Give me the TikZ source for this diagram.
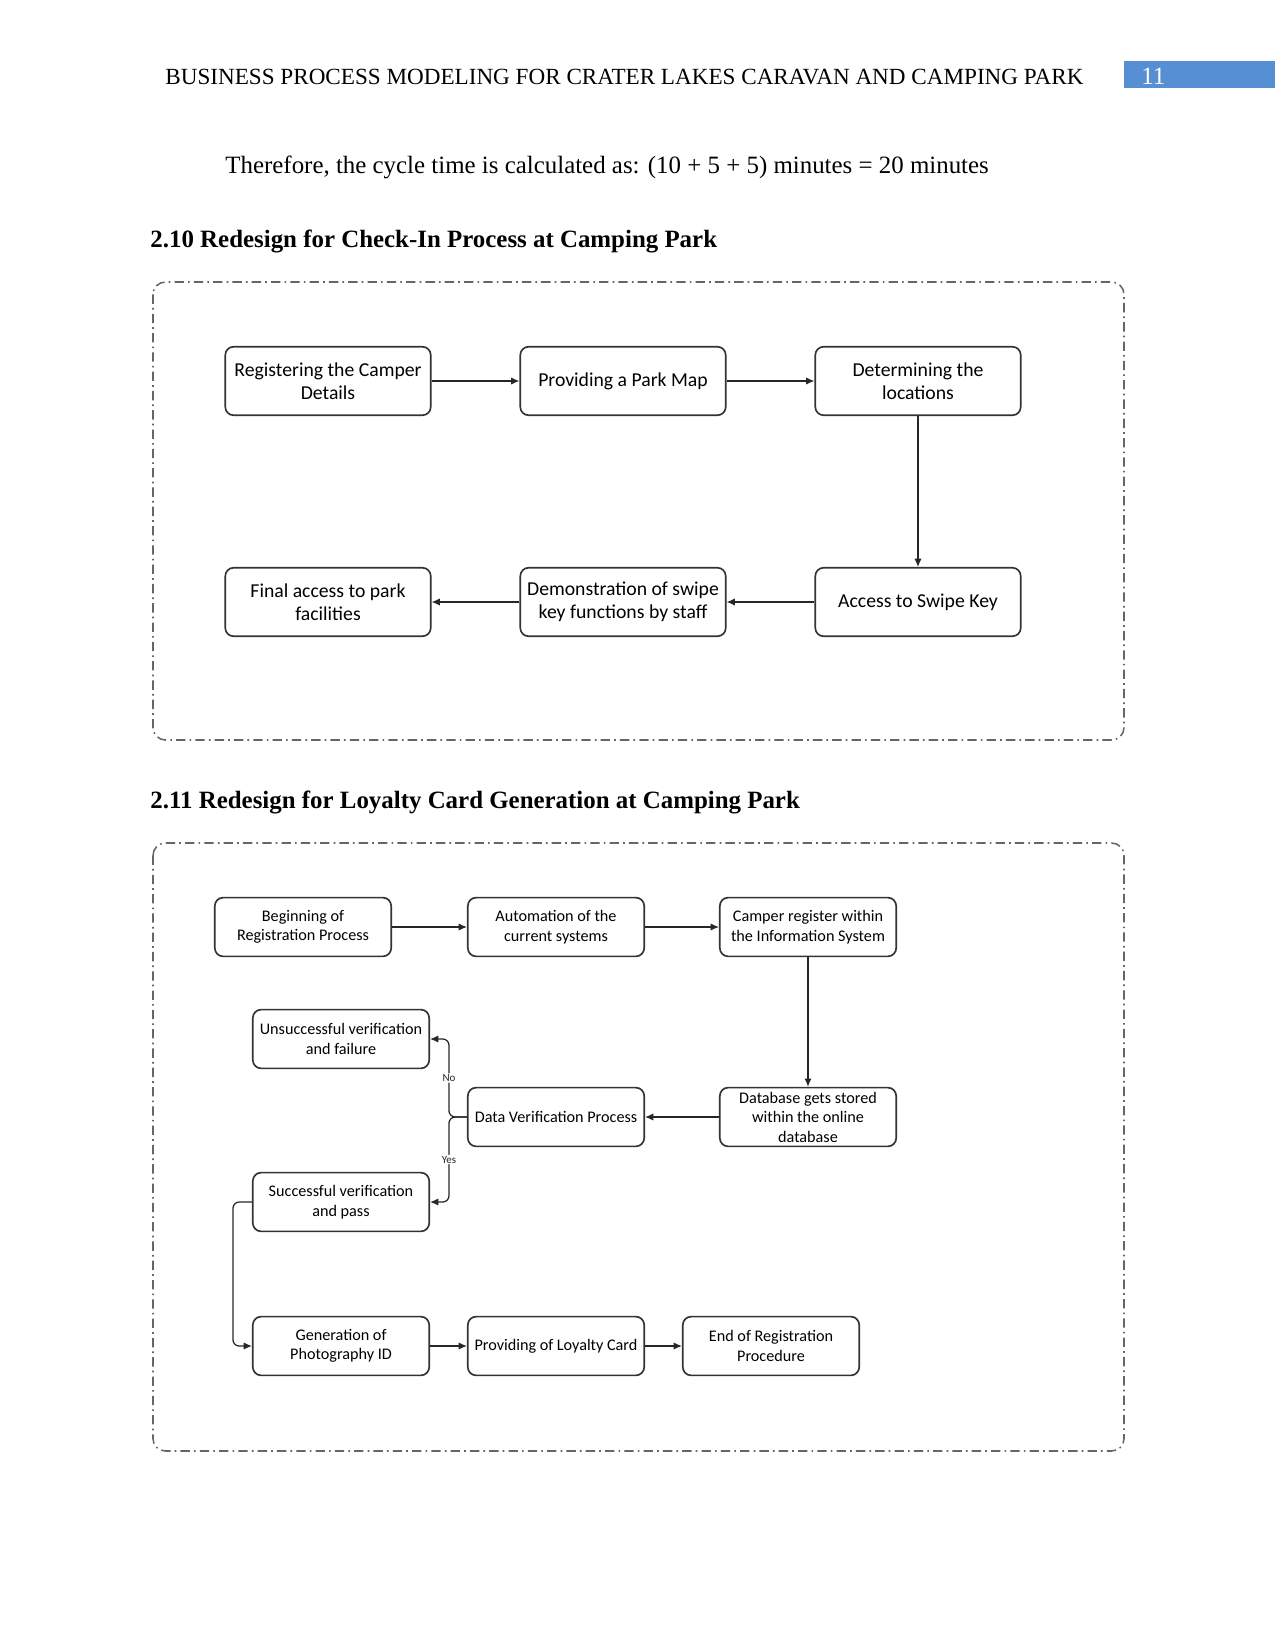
\documentclass[tikz,border=0pt]{standalone}
\usepackage{fontspec}
\setmainfont{Liberation Serif}
\newfontfamily\boxfont{Carlito}
\usetikzlibrary{arrows.meta, positioning}
\definecolor{pageblue}{RGB}{86,143,212}
\tikzset{
  procbox/.style={draw=black!80, rounded corners=4pt, line width=0.8pt, align=center,
    font=\boxfont\fontsize{9.5}{11}\selectfont, minimum width=99pt, minimum height=33pt, inner sep=1pt},
  smallbox/.style={procbox, minimum width=85pt, minimum height=28.3pt,
    font=\boxfont\fontsize{7.8}{9.4}\selectfont},
  flow/.style={-{Latex[length=4pt,width=3.5pt]}, line width=0.6pt, black!85},
  frame/.style={draw=black!60, dash pattern=on 4.5pt off 2pt on 0.8pt off 2pt, rounded corners=6pt, line width=0.75pt},
  tag/.style={font=\boxfont\fontsize{5.3}{6}\selectfont, fill=white, inner sep=0.5pt}
}
\begin{document}
\begin{tikzpicture}[x=0.016933cm, y=-0.016933cm]
  \useasboundingbox (0,0) rectangle (1275,1651);

  % page header and text
  \node[anchor=base west, inner sep=0, font=\fontsize{11.15}{13}\selectfont] (header) at (165,84)
    {BUSINESS PROCESS MODELING FOR CRATER LAKES CARAVAN AND CAMPING PARK};
  \fill[pageblue] (1124,61) rectangle (1275,88);
  \node[anchor=base west, inner sep=0, text=white, font=\fontsize{12}{14}\selectfont] (pagenum) at (1141,84) {11};
  \node[anchor=base west, inner sep=0, font=\fontsize{12}{14}\selectfont] (cycle) at (225,173)
    {Therefore, the cycle time is calculated as: (10 + 5 + 5) minutes = 20 minutes};
  \node[anchor=base west, inner sep=0, font=\bfseries\fontsize{12}{14}\selectfont] (head1) at (150,247)
    {2.10 Redesign for Check-In Process at Camping Park};
  \node[anchor=base west, inner sep=0, font=\bfseries\fontsize{12}{14}\selectfont] (head2) at (150,808)
    {2.11 Redesign for Loyalty Card Generation at Camping Park};

  % check-in process
  \draw[frame] (153,282) rectangle (1124,740);
  \node[procbox] (register) at (328,381) {Registering the Camper\\Details};
  \node[procbox] (parkmap) at (623,381) {Providing a Park Map};
  \node[procbox] (locations) at (918,381) {Determining the\\locations};
  \node[procbox] (swipekey) at (918,602) {Access to Swipe Key};
  \node[procbox] (demo) at (623,602) {Demonstration of swipe\\key functions by staff};
  \node[procbox] (facilities) at (328,602) {Final access to park\\facilities};
  \draw[flow] (register) -- (parkmap);
  \draw[flow] (parkmap) -- (locations);
  \draw[flow] (locations) -- (swipekey);
  \draw[flow] (swipekey) -- (demo);
  \draw[flow] (demo) -- (facilities);

  % loyalty card generation
  \draw[frame] (153,843) rectangle (1124,1451);
  \node[smallbox] (begin) at (303,927) {Beginning of\\Registration Process};
  \node[smallbox] (automate) at (556,927) {Automation of the\\current systems};
  \node[smallbox] (infosys) at (808,927) {Camper register within\\the Information System};
  \node[smallbox] (database) at (808,1117) {Database gets stored\\within the online\\database};
  \node[smallbox] (verify) at (556,1117) {Data Verification Process};
  \node[smallbox] (fail) at (341,1039) {Unsuccessful verification\\and failure};
  \node[smallbox] (pass) at (341,1202) {Successful verification\\and pass};
  \node[smallbox] (photoid) at (341,1346) {Generation of\\Photography ID};
  \node[smallbox] (loyalty) at (556,1346) {Providing of Loyalty Card};
  \node[smallbox] (finish) at (771,1346) {End of Registration\\Procedure};
  \draw[flow] (begin) -- (automate);
  \draw[flow] (automate) -- (infosys);
  \draw[flow] (infosys) -- (database);
  \draw[flow] (database) -- (verify);
  \draw[flow, rounded corners=3pt] (verify.west) -- ++(-18,0) |- node[tag, pos=0.25] {No} (fail.east);
  \draw[flow, rounded corners=3pt] (verify.west) -- ++(-18,0) |- node[tag, pos=0.25] {Yes} (pass.east);
  \draw[flow, rounded corners=3pt] (pass.west) -- ++(-19,0) |- (photoid.west);
  \draw[flow] (photoid) -- (loyalty);
  \draw[flow] (loyalty) -- (finish);
\end{tikzpicture}
\end{document}
